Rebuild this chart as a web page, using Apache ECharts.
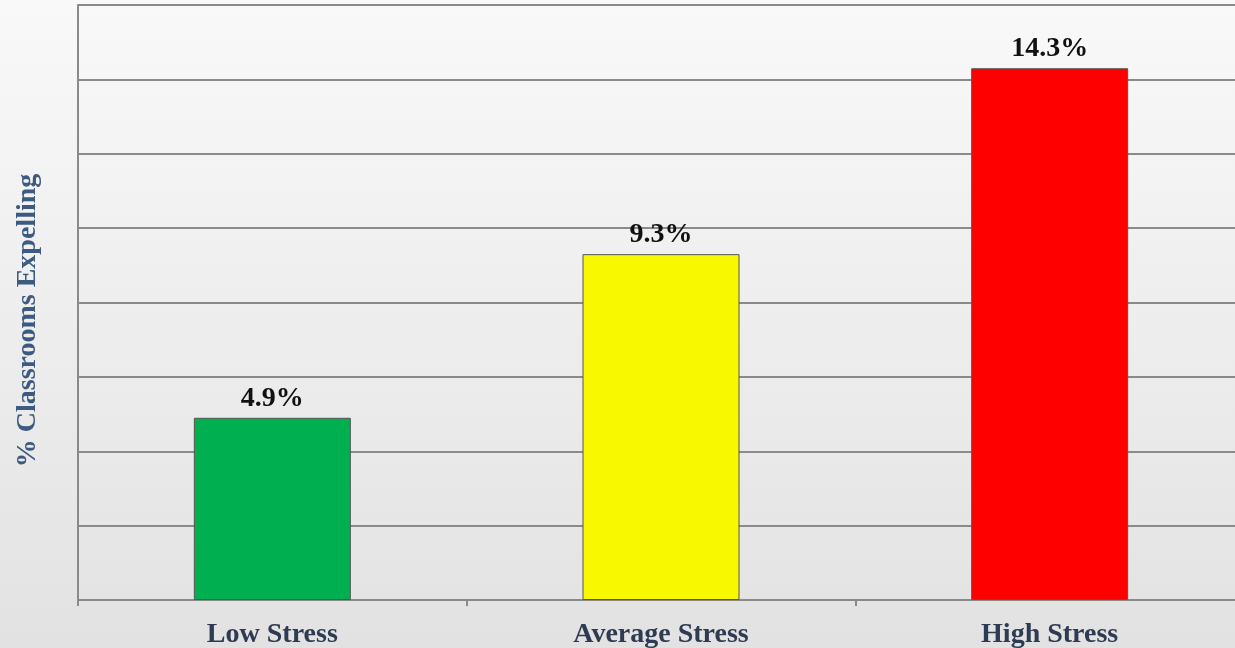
<!DOCTYPE html>
<html>
<head>
<meta charset="utf-8">
<script src="https://cdn.jsdelivr.net/npm/echarts@6/dist/echarts.min.js"></script>
<style>
html,body{margin:0;padding:0;width:1235px;height:648px;overflow:hidden;}
#chart{width:1235px;height:648px;}
</style>
</head>
<body>
<div id="chart"></div>
<script>
const categories = ['Low Stress', 'Average Stress', 'High Stress'];
const values = [4.9, 9.3, 14.3];
const barColors = ['#00b050', '#f8f800', '#ff0000'];
const yAxisName = '% Classrooms Expelling';

const chart = echarts.init(document.getElementById('chart'));
const serif = '"Liberation Serif", "DejaVu Serif", serif';
chart.setOption({
  animation: false,
  backgroundColor: {
    type: 'linear', x: 0, y: 0, x2: 0, y2: 1,
    colorStops: [{offset: 0, color: '#f9f9f9'}, {offset: 1, color: '#e2e2e2'}]
  },
  grid: {left: 78, width: 1166, top: 5, height: 595, containLabel: false, outerBoundsMode: 'none'},
  xAxis: {
    type: 'category',
    data: categories,
    axisLine: {show: true, lineStyle: {color: '#8a8a8a', width: 2}},
    axisTick: {show: true, length: 6, lineStyle: {color: '#8a8a8a', width: 2}},
    axisLabel: {
      color: '#2f3b52', fontFamily: serif, fontWeight: 'bold', fontSize: 28, margin: 21
    }
  },
  yAxis: {
    type: 'value',
    min: 0, max: 16, interval: 2,
    name: yAxisName,
    nameLocation: 'middle',
    nameGap: 36,
    nameTextStyle: {color: '#3d5a80', fontFamily: serif, fontWeight: 'bold', fontSize: 28, padding: [0, 36, 0, 0]},
    axisLine: {show: true, lineStyle: {color: '#8a8a8a', width: 2}},
    axisTick: {show: false},
    axisLabel: {show: false},
    splitLine: {show: true, lineStyle: {color: '#8a8a8a', width: 2}}
  },
  series: [{
    type: 'bar',
    barWidth: 157,
    data: values.map((v, i) => ({
      value: v,
      itemStyle: {color: barColors[i], borderColor: '#555', borderWidth: 1}
    })),
    label: {
      show: true, position: 'top', distance: 5,
      formatter: p => p.value.toFixed(1) + '%',
      color: '#111', fontFamily: serif, fontWeight: 'bold', fontSize: 28
    }
  }]
});
</script>
</body>
</html>
